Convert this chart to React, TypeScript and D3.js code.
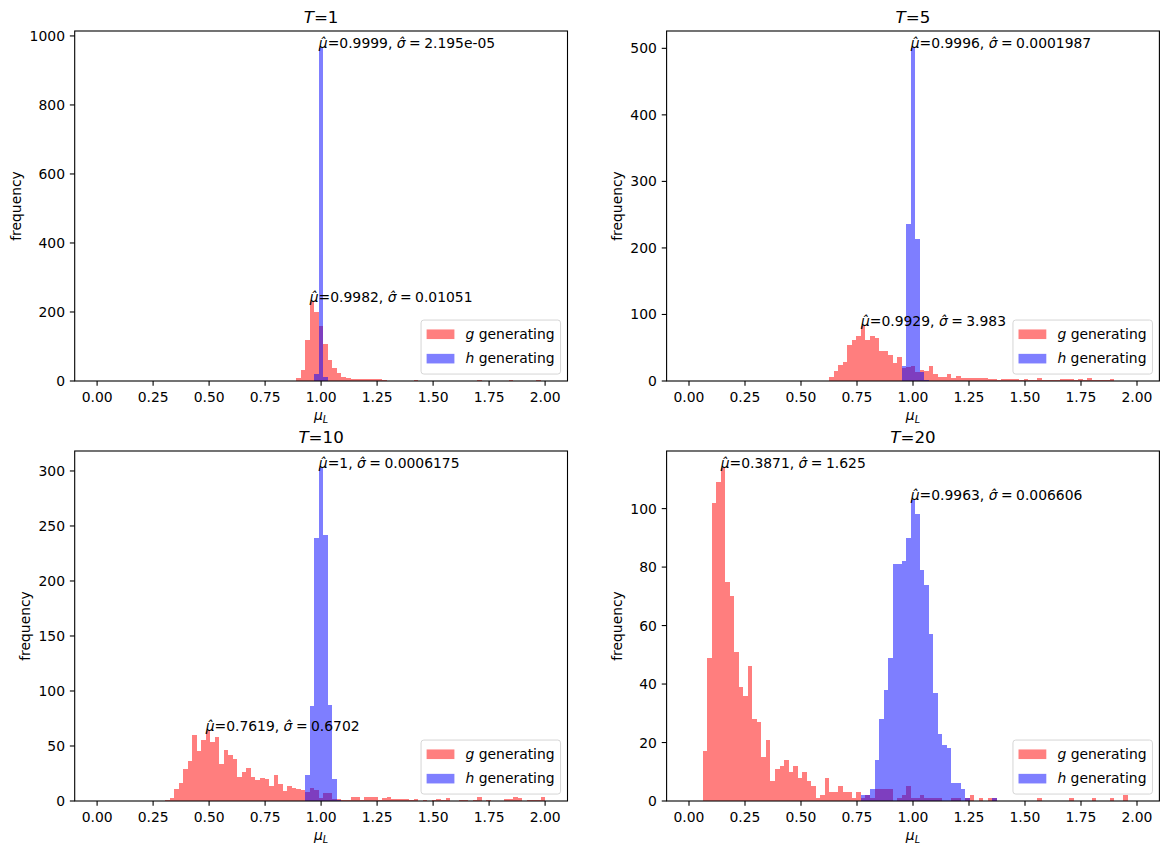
import React from "react";
import * as d3 from "d3";

// figure geometry (matplotlib 14x10in @100dpi, tight crop)
const W = 1169;
const H = 855;
const PW = 492.8;
const PH = 350;
const colLeft = [74.7, 666.6];
const rowTop = [31, 451];
const FONT = "DejaVu Sans";
const FS = 13.9;

const T_VALUES = [1, 5, 10, 20];
// np.linspace(0, 2, 100) -> 99 bins
const binEdges = d3.range(100).map((i) => (2 * i) / 99);
const xTicks = [0, 0.25, 0.5, 0.75, 1, 1.25, 1.5, 1.75, 2];

// index of the first bin of each count list
const gFirstBin = [44, 31, 15, 3];
const hFirstBin = [48, 47, 46, 38];

const gCountsT1 = [
  8, 32, 119, 228, 200, 158, 106, 62, 37, 22, 13, 10, 5, 5, 7, 7, 5, 5, 5, 2,
  1, 0, 1, 0, 0, 1, 4, 0, 0, 1, 0, 0, 0, 0, 0, 0, 0, 0, 0, 0, 2, 0, 0, 0, 0, 0,
  0, 2, 0, 0, 0, 0, 0, 2,
];
const hCountsT1 = [20, 966, 11];

const gCountsT5 = [
  6, 15, 24, 29, 54, 62, 68, 83, 62, 68, 64, 45, 45, 39, 27, 36, 20, 21, 22, 14,
  16, 15, 22, 10, 6, 6, 10, 5, 7, 4, 4, 5, 4, 5, 4, 3, 3, 2, 3, 3, 3, 3, 1, 3, 2,
  2, 4, 2, 2, 2, 1, 3, 3, 3, 2, 3, 1, 4, 1, 1, 2, 1, 3,
];
const hCountsT5 = [22, 236, 501, 214, 14, 2];

const gCountsT10 = [
  1, 3, 11, 16, 29, 36, 60, 45, 55, 64, 54, 58, 34, 46, 42, 38, 22, 26, 30, 22,
  19, 21, 20, 14, 24, 15, 9, 14, 12, 11, 10, 8, 12, 10, 3, 7, 7, 2, 2, 1, 1, 4,
  4, 1, 4, 4, 4, 1, 3, 4, 2, 2, 2, 2, 1, 2, 0, 1, 0, 1, 2, 1, 3, 0, 0, 1, 1, 0,
  1, 4, 0, 1, 0, 0, 0, 2, 2, 4, 3, 0, 1, 1, 1, 4,
];
const hCountsT10 = [24, 86, 239, 303, 242, 87, 20, 1];

const gCountsT20 = [
  17, 49, 102, 109, 114, 75, 70, 51, 39, 36, 46, 28, 27, 15, 21, 7, 11, 12, 14,
  10, 12, 8, 10, 7, 5, 1, 2, 8, 3, 3, 5, 3, 3, 1, 3, 1, 2, 1, 4, 4, 4, 4, 0, 1,
  2, 5, 1, 1, 2, 1, 1, 1, 1, 0, 0, 1, 1, 0, 1, 2, 0, 1, 0, 1, 1, 0, 0, 0, 0, 0,
  0, 0, 0, 0, 1, 0, 0, 0, 0, 0, 0, 1, 0, 0, 0, 0, 1, 0, 0, 0, 1, 0, 0, 2,
];
const hCountsT20 = [
  2, 2, 4, 14, 28, 38, 49, 81, 81, 82, 90, 103, 98, 79, 74, 57, 37, 23, 19, 18,
  6, 6, 4, 1, 0, 0, 0, 0, 0, 1,
];

const gCounts = [gCountsT1, gCountsT5, gCountsT10, gCountsT20];
const hCounts = [hCountsT1, hCountsT5, hCountsT10, hCountsT20];

const gMu = ["0.9982", "0.9929", "0.7619", "0.3871"];
const gSigma = ["0.01051", "3.983", "0.6702", "1.625"];
const hMu = ["0.9999", "0.9996", "1", "0.9963"];
const hSigma = ["2.195e-05", "0.0001987", "0.0006175", "0.006606"];

const seriesColors = ["#ff0000", "#0000ff"];
const legendNames = ["g", "h"];

function toBins(first: number, counts: number[]) {
  return counts.map((c, i) => ({ k: first + i, c }));
}

function Note({ x, y, mu, sigma }: any) {
  return (
    <text x={x} y={y} fontSize={FS} fontFamily={FONT}>
      <tspan fontStyle="italic">{"\u03bc\u0302"}</tspan>
      {"=" + mu + ", "}
      <tspan fontStyle="italic">{"\u03c3\u0302"}</tspan>
      {"\u2005=\u2005" + sigma}
    </text>
  );
}

function Panel({ idx }: { idx: number }) {
  const left = colLeft[idx % 2];
  const top = rowTop[Math.floor(idx / 2)];
  const g = toBins(gFirstBin[idx], gCounts[idx]);
  const h = toBins(hFirstBin[idx], hCounts[idx]);
  const maxCount = d3.max([...g, ...h], (d) => d.c) as number;

  const x = d3.scaleLinear().domain([-0.1, 2.1]).range([0, PW]);
  const y = d3.scaleLinear().domain([0, maxCount * 1.05]).range([PH, 0]);
  const yTicks = y.ticks(6);

  const gPeak = g.reduce((a, b) => (b.c > a.c ? b : a));
  const hPeak = h.reduce((a, b) => (b.c > a.c ? b : a));

  const tickLabelW = d3.max(yTicks, (t) => String(t).length)! * 0.636 * FS;
  const ylabelX = -9.72 - tickLabelW - 5.56 - 2.9;

  // legend (lower right)
  const legW = 139.5;
  const legH = 54;
  const legX = PW - 6.95 - legW;
  const legY = PH - 6.95 - legH;
  const rowCenters = [legY + 14.2, legY + 38.6];

  const bars = (data: { k: number; c: number }[], color: string) => (
    <g opacity={0.5}>
      {data
        .filter((d) => d.c > 0)
        .map((d) => (
          <rect
            key={d.k}
            x={x(binEdges[d.k])}
            width={x(binEdges[d.k + 1]) - x(binEdges[d.k])}
            y={y(d.c)}
            height={PH - y(d.c)}
            fill={color}
            shapeRendering="crispEdges"
          />
        ))}
    </g>
  );

  return (
    <g transform={`translate(${left},${top})`}>
      {bars(g, seriesColors[0])}
      {bars(h, seriesColors[1])}

      <Note x={x(binEdges[gPeak.k])} y={y(gPeak.c)} mu={gMu[idx]} sigma={gSigma[idx]} />
      <Note x={x(binEdges[hPeak.k])} y={y(hPeak.c)} mu={hMu[idx]} sigma={hSigma[idx]} />

      {/* legend */}
      <rect
        x={legX}
        y={legY}
        width={legW}
        height={legH}
        rx={2.8}
        fill="#ffffff"
        fillOpacity={0.8}
        stroke="#cccccc"
        strokeOpacity={0.8}
        strokeWidth={1}
      />
      {legendNames.map((name, i) => (
        <g key={name}>
          <rect
            x={legX + 5.56}
            y={rowCenters[i] - 4.8}
            width={27.8}
            height={9.6}
            fill={seriesColors[i]}
            fillOpacity={0.5}
          />
          <text
            x={legX + 5.56 + 27.8 + 11.1}
            y={rowCenters[i] + 4.6}
            fontSize={FS}
            fontFamily={FONT}
          >
            <tspan fontStyle="italic">{name}</tspan>
            {" generating"}
          </text>
        </g>
      ))}

      {/* spines */}
      <rect x={0} y={0} width={PW} height={PH} fill="none" stroke="#000" strokeWidth={1.1} />

      {/* x axis */}
      {xTicks.map((t) => (
        <g key={t} transform={`translate(${x(t)},${PH})`}>
          <line y2={4.86} stroke="#000" strokeWidth={1.1} />
          <text y={21.2} textAnchor="middle" fontSize={FS} fontFamily={FONT}>
            {d3.format(".2f")(t)}
          </text>
        </g>
      ))}
      <text x={PW / 2} y={PH + 39.3} textAnchor="middle" fontSize={FS} fontFamily={FONT}>
        <tspan fontStyle="italic">{"\u03bc"}</tspan>
        <tspan fontStyle="italic" fontSize={FS * 0.7} dy={2.9}>
          L
        </tspan>
      </text>

      {/* y axis */}
      {yTicks.map((t) => (
        <g key={t} transform={`translate(0,${y(t)})`}>
          <line x2={-4.86} stroke="#000" strokeWidth={1.1} />
          <text x={-9.72} dy="0.36em" textAnchor="end" fontSize={FS} fontFamily={FONT}>
            {t}
          </text>
        </g>
      ))}
      <text
        transform={`translate(${ylabelX},${PH / 2}) rotate(-90)`}
        textAnchor="middle"
        fontSize={FS}
        fontFamily={FONT}
      >
        frequency
      </text>

      {/* title */}
      <text x={PW / 2} y={-8.3} textAnchor="middle" fontSize={16.67} fontFamily={FONT}>
        <tspan fontStyle="italic">T</tspan>
        {"=" + T_VALUES[idx]}
      </text>
    </g>
  );
}

export default function App() {
  return (
    <div style={{ position: "absolute", left: 0, top: 0 }}>
      <svg width={W} height={H} style={{ display: "block", background: "#fff" }}>
        <rect width={W} height={H} fill="#fff" />
        {[0, 1, 2, 3].map((i) => (
          <Panel key={i} idx={i} />
        ))}
      </svg>
    </div>
  );
}
